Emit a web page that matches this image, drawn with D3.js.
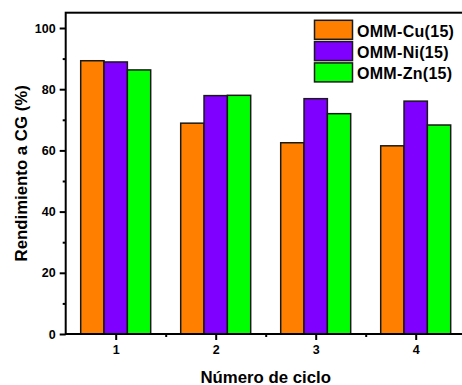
<!DOCTYPE html>
<html>
<head>
<meta charset="utf-8">
<script src="https://cdn.jsdelivr.net/npm/d3@7"></script>
<style>
  html, body { margin: 0; padding: 0; background: #fff; }
  svg { display: block; }
  text { font-family: "Liberation Sans", Arial, sans-serif; font-weight: bold; fill: #000; }
</style>
</head>
<body>
<svg id="chart" width="462" height="385"></svg>
<script>
// Catalyst yield to CG over reuse cycles
const cycles = [1, 2, 3, 4];
const seriesNames = ["OMM-Cu(15)", "OMM-Ni(15)", "OMM-Zn(15)"];
const cuValues = [89.3, 68.9, 62.5, 61.5];
const niValues = [88.9, 77.9, 76.9, 76.1];
const znValues = [86.3, 78.0, 72.0, 68.3];
const seriesColors = ["#FF8000", "#8000FF", "#00FF00"];
const yTicks = [0, 20, 40, 60, 80, 100];
const xLabel = "Número de ciclo";
const yLabel = "Rendimiento a CG (%)";

const series = [cuValues, niValues, znValues];

const svg = d3.select("#chart");
const plotLeft = 65.7, plotBottom = 334, plotTop = 12.7;

const x = d3.scaleLinear().domain([0.5, 4.5]).range([plotLeft, plotLeft + 400]);
const y = d3.scaleLinear().domain([0, 105]).range([plotBottom, plotTop]);
const barW = 0.2333;

// bars
series.forEach((vals, si) => {
  svg.append("g")
    .selectAll("rect")
    .data(vals.map((v, i) => ({ c: cycles[i], v })))
    .join("rect")
    .attr("x", d => x(d.c + (si - 1.5) * barW))
    .attr("y", d => y(d.v))
    .attr("width", x(barW) - x(0))
    .attr("height", d => y(0) - y(d.v))
    .attr("fill", seriesColors[si])
    .attr("stroke", "#1a1a1a")
    .attr("stroke-width", 1.5);
});

// y axis: labelled major ticks plus minor ticks
const yAxis = d3.axisLeft(y).tickValues(yTicks).tickSize(6).tickPadding(4).tickFormat(d3.format("d"));
svg.append("g").attr("transform", `translate(${plotLeft},0)`).call(yAxis);
const yMinor = d3.axisLeft(y).tickValues(d3.range(10, 101, 20)).tickSize(3).tickFormat("");
svg.append("g").attr("transform", `translate(${plotLeft},0)`).call(yMinor);

// x axis: cycle ticks plus minor ticks in between
const xAxis = d3.axisBottom(x).tickValues(cycles).tickSize(6).tickPadding(5).tickFormat(d3.format("d"));
svg.append("g").attr("transform", `translate(0,${plotBottom})`).call(xAxis);
const xMinor = d3.axisBottom(x).tickValues([1.5, 2.5, 3.5]).tickSize(3).tickFormat("");
svg.append("g").attr("transform", `translate(0,${plotBottom})`).call(xMinor);

svg.selectAll(".domain").remove();
svg.selectAll(".tick line").attr("stroke", "#000").attr("stroke-width", 2);
svg.selectAll(".tick text").style("font-size", "12.5px").style("font-weight", "bold");

// frame
svg.append("rect")
  .attr("x", x(0.5)).attr("y", y(105))
  .attr("width", x(4.5) - x(0.5)).attr("height", y(0) - y(105))
  .attr("fill", "none").attr("stroke", "#000").attr("stroke-width", 2);

// axis titles
svg.append("text")
  .attr("x", (x(0.5) + x(4.5)) / 2).attr("y", 382.5)
  .attr("text-anchor", "middle").style("font-size", "16.8px")
  .text(xLabel);
svg.append("text")
  .attr("transform", `translate(26.5,${(y(0) + y(105)) / 2}) rotate(-90)`)
  .attr("text-anchor", "middle").style("font-size", "16.8px")
  .text(yLabel);

// legend
const legend = svg.append("g").attr("transform", "translate(314.5,20.3)");
seriesNames.forEach((name, i) => {
  const row = legend.append("g").attr("transform", `translate(0,${i * 21.3})`);
  row.append("rect").attr("width", 38).attr("height", 19)
    .attr("fill", seriesColors[i]).attr("stroke", "#1a1a1a").attr("stroke-width", 1.5);
  row.append("text").attr("x", 42.5).attr("y", 16.3)
    .style("font-size", "16px").style("letter-spacing", "0.3px").text(name);
});
</script>
</body>
</html>
